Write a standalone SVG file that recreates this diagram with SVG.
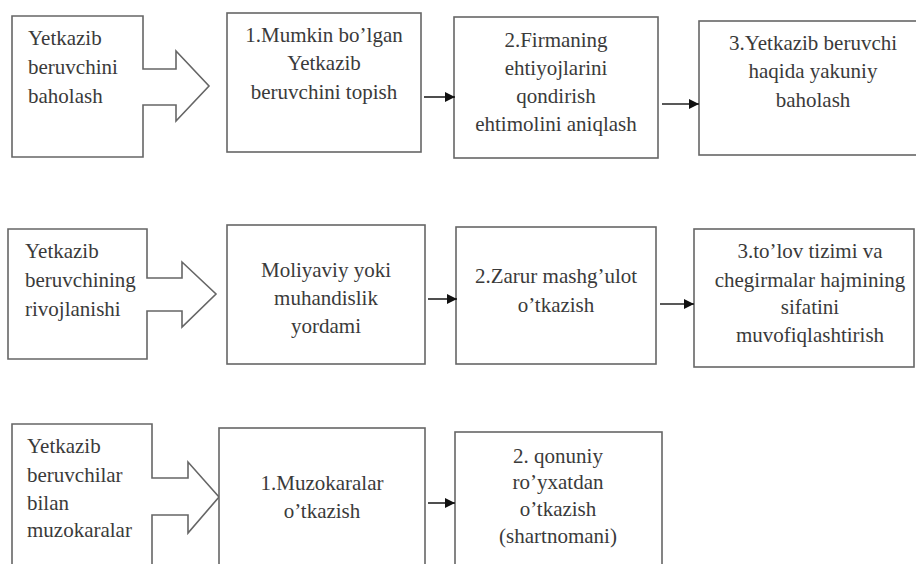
<svg xmlns="http://www.w3.org/2000/svg" width="916" height="564" viewBox="0 0 916 564" font-family="Liberation Serif">
<defs>
<style>
.box{fill:#fff;stroke:#666;stroke-width:1.6}
.con{stroke:#222;stroke-width:1.6;fill:none}
</style>
<marker id="ah" viewBox="0 0 10 10" refX="10" refY="5" markerWidth="10" markerHeight="10" markerUnits="userSpaceOnUse" orient="auto">
<path d="M0,0 L10,5 L0,10 z" fill="#111"/>
</marker>
</defs>
<rect width="916" height="564" fill="#fff"/>

<g id="r1n0">
<polygon class="box" points="12,16 143,16 143,69 176,69 176,51 209,86 176,121 176,105 143,105 143,157 12,157"/>
<text font-family="Times New Roman" font-size="21" fill="#3a3a3a" x="28" y="45">Yetkazib</text>
<text font-family="Times New Roman" font-size="21" fill="#3a3a3a" x="28" y="74">beruvchini</text>
<text font-family="Times New Roman" font-size="21" fill="#3a3a3a" x="28" y="103">baholash</text>
</g>
<g id="r1n1">
<rect class="box" x="227" y="13" width="194" height="139"/>
<text font-family="Times New Roman" font-size="21" fill="#3a3a3a" text-anchor="middle" x="324" y="42">1.Mumkin bo’lgan</text>
<text font-family="Times New Roman" font-size="21" fill="#3a3a3a" text-anchor="middle" x="324" y="70">Yetkazib</text>
<text font-family="Times New Roman" font-size="21" fill="#3a3a3a" text-anchor="middle" x="324" y="99">beruvchini topish</text>
</g>
<g id="r1n2">
<rect class="box" x="454" y="17" width="204" height="141"/>
<text font-family="Times New Roman" font-size="21" fill="#3a3a3a" text-anchor="middle" x="556" y="47">2.Firmaning</text>
<text font-family="Times New Roman" font-size="21" fill="#3a3a3a" text-anchor="middle" x="556" y="75">ehtiyojlarini</text>
<text font-family="Times New Roman" font-size="21" fill="#3a3a3a" text-anchor="middle" x="556" y="103">qondirish</text>
<text font-family="Times New Roman" font-size="21" fill="#3a3a3a" text-anchor="middle" x="556" y="131">ehtimolini aniqlash</text>
</g>
<g id="r1n3">
<rect class="box" x="699" y="21" width="230" height="134"/>
<text font-family="Times New Roman" font-size="21" fill="#3a3a3a" text-anchor="middle" x="813" y="50">3.Yetkazib beruvchi</text>
<text font-family="Times New Roman" font-size="21" fill="#3a3a3a" text-anchor="middle" x="813" y="78">haqida yakuniy</text>
<text font-family="Times New Roman" font-size="21" fill="#3a3a3a" text-anchor="middle" x="813" y="107">baholash</text>
</g>

<g id="r2n0">
<polygon class="box" points="8,229 147,229 147,278 182,278 182,262 216,294 182,327 182,311 147,311 147,359 8,359"/>
<text font-family="serif" font-size="21" fill="#3a3a3a" x="25" y="258">Yetkazib</text>
<text font-family="serif" font-size="21" fill="#3a3a3a" x="25" y="287">beruvchining</text>
<text font-family="serif" font-size="21" fill="#3a3a3a" x="25" y="316">rivojlanishi</text>
</g>
<g id="r2n1">
<rect class="box" x="227" y="225" width="198" height="139"/>
<text font-family="serif" font-size="21" fill="#3a3a3a" text-anchor="middle" x="326" y="277">Moliyaviy yoki</text>
<text font-family="serif" font-size="21" fill="#3a3a3a" text-anchor="middle" x="326" y="305">muhandislik</text>
<text font-family="serif" font-size="21" fill="#3a3a3a" text-anchor="middle" x="326" y="333">yordami</text>
</g>
<g id="r2n2">
<rect class="box" x="456" y="227" width="200" height="137"/>
<text font-family="serif" font-size="21" fill="#3a3a3a" text-anchor="middle" x="556" y="283">2.Zarur mashg’ulot</text>
<text font-family="serif" font-size="21" fill="#3a3a3a" text-anchor="middle" x="556" y="312">o’tkazish</text>
</g>
<g id="r2n3">
<rect class="box" x="694" y="229" width="220" height="138"/>
<text font-family="serif" font-size="21" fill="#3a3a3a" text-anchor="middle" x="810" y="258">3.to’lov tizimi va</text>
<text font-family="serif" font-size="21" fill="#3a3a3a" text-anchor="middle" x="810" y="287">chegirmalar hajmining</text>
<text font-family="serif" font-size="21" fill="#3a3a3a" text-anchor="middle" x="810" y="314">sifatini</text>
<text font-family="serif" font-size="21" fill="#3a3a3a" text-anchor="middle" x="810" y="342">muvofiqlashtirish</text>
</g>

<g id="r3n0">
<polygon class="box" points="12,424 152,424 152,478 188,478 188,462 219,497 188,533 188,515 152,515 152,580 12,580"/>
<text font-size="21" fill="#3a3a3a" x="27" y="453">Yetkazib</text>
<text font-size="21" fill="#3a3a3a" x="27" y="482">beruvchilar</text>
<text font-size="21" fill="#3a3a3a" x="27" y="510">bilan</text>
<text font-size="21" fill="#3a3a3a" x="27" y="537">muzokaralar</text>
</g>
<g id="r3n1">
<rect class="box" x="219" y="428" width="206" height="150"/>
<text font-size="21" fill="#3a3a3a" text-anchor="middle" x="322" y="490">1.Muzokaralar</text>
<text font-size="21" fill="#3a3a3a" text-anchor="middle" x="322" y="518">o’tkazish</text>
</g>
<g id="r3n2">
<rect class="box" x="455" y="432" width="207" height="150"/>
<text font-size="21" fill="#3a3a3a" text-anchor="middle" x="558" y="463">2. qonuniy</text>
<text font-size="21" fill="#3a3a3a" text-anchor="middle" x="558" y="489">ro’yxatdan</text>
<text font-size="21" fill="#3a3a3a" text-anchor="middle" x="558" y="516">o’tkazish</text>
<text font-size="21" fill="#3a3a3a" text-anchor="middle" x="558" y="543">(shartnomani)</text>
</g>

<g id="connectors">
<line class="con" x1="424" y1="97" x2="455" y2="97" marker-end="url(#ah)"/>
<line class="con" x1="662" y1="104" x2="699" y2="104" marker-end="url(#ah)"/>
<line class="con" x1="428" y1="299" x2="457" y2="299" marker-end="url(#ah)"/>
<line class="con" x1="660" y1="304" x2="694" y2="304" marker-end="url(#ah)"/>
<line class="con" x1="428" y1="503" x2="455" y2="503" marker-end="url(#ah)"/>
</g>
</svg>
